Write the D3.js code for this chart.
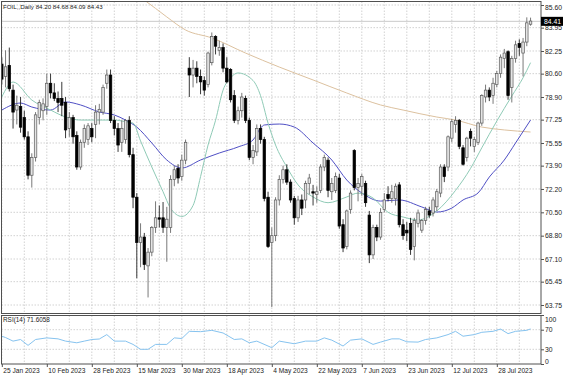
<!DOCTYPE html>
<html>
<head>
<meta charset="utf-8">
<script src="https://cdn.jsdelivr.net/npm/d3@7/dist/d3.min.js"></script>
<style>
  body { margin: 0; background: #fff; }
  svg { display: block; font-family: "Liberation Sans", Arial, sans-serif; }
</style>
</head>
<body>
<svg id="chart" width="564" height="376"></svg>
<script>
// daily OHLC, one entry per bar (bar 0 = 25 Jan 2023, last bar is the open one)
const open  = [81.3,80.4,81.2,79.4,77.95,78.2,77.4,76.0,73.2,74.5,77.4,77.9,78.2,79.9,79.2,78.8,78.8,78.5,76.6,77.4,
               76.1,73.8,75.6,75.8,76.6,76.9,77.8,77.8,79.9,80.5,77.2,76.6,75.6,75.8,77.2,74.7,71.6,68.3,68.7,66.6,
               67.6,69.4,70.1,70.1,69.4,69.4,72.9,73.7,73.1,74.3,81.0,80.5,81.0,80.4,80.1,79.8,81.4,83.3,82.3,82.5,
               81.0,80.9,79.0,77.2,77.9,78.8,77.2,74.5,74.9,76.6,75.8,71.6,68.3,68.8,71.4,72.9,73.6,72.7,71.5,70.1,
               71.4,71.4,72.6,72.0,71.8,72.1,73.8,74.3,72.0,72.1,73.0,69.6,68.0,70.7,75.0,72.3,72.4,72.6,70.3,67.4,
               69.4,68.7,70.7,71.8,71.5,71.5,72.5,69.6,69.2,69.7,68.0,69.7,69.2,69.9,70.6,70.45,70.9,71.9,73.8,73.8,
               75.9,76.9,77.2,75.2,74.5,76.4,75.3,75.6,77.0,78.9,79.4,79.0,79.8,80.6,81.7,82.2,79.6,81.7,82.8,82.1,
               82.9,84.20];
const high  = [81.8,82.3,82.5,79.8,79.0,78.9,77.9,76.4,74.8,77.8,78.7,78.8,80.6,80.6,79.9,79.3,80.0,78.9,77.8,77.6,
               76.4,75.8,76.9,77.0,77.0,78.3,78.4,79.8,80.9,80.9,77.5,77.0,77.2,77.3,77.5,75.2,71.9,69.7,69.0,67.9,
               69.5,71.3,71.0,71.25,70.9,73.2,73.9,74.0,74.7,75.8,81.8,81.6,81.5,80.9,80.4,82.2,83.6,83.4,83.0,82.8,
               81.8,81.0,79.4,78.2,79.2,79.0,77.4,75.4,76.9,76.9,76.0,72.0,69.4,71.6,73.2,73.9,74.0,72.9,71.7,71.7,
               71.8,72.8,73.3,72.5,72.4,74.0,74.7,74.5,73.0,73.4,73.3,70.0,70.7,72.1,75.1,73.0,73.3,72.8,70.6,69.6,
               69.6,70.8,71.9,72.4,72.5,72.6,72.7,70.0,69.8,70.1,70.1,70.7,70.0,70.9,70.9,71.6,72.2,74.0,74.0,76.1,
               77.3,77.5,77.3,75.4,76.0,76.6,76.0,77.1,79.1,79.8,79.6,80.3,80.8,82.0,82.4,82.3,81.9,83.0,83.1,83.2,
               84.7,84.68];
const low   = [79.8,79.6,79.3,76.6,76.9,76.3,75.8,72.9,72.3,74.2,76.9,77.2,77.6,78.8,78.6,77.8,77.5,75.9,76.0,75.5,
               73.6,73.6,75.2,75.4,75.6,75.9,76.9,77.6,79.5,77.0,76.1,74.9,74.9,75.5,74.5,70.8,65.7,66.5,66.3,64.3,
               67.3,69.0,69.4,69.0,66.9,69.0,72.4,72.6,72.8,74.0,78.9,79.6,79.9,79.1,79.0,79.6,81.2,82.0,81.9,80.7,
               79.9,78.5,77.0,76.9,77.4,77.0,74.3,74.0,74.6,75.5,71.3,67.9,63.6,68.4,71.0,72.6,72.5,71.2,69.6,69.8,
               70.3,70.8,71.8,71.0,71.2,71.9,73.5,71.6,71.4,71.9,69.3,67.6,67.8,70.4,72.1,71.3,71.7,70.9,66.8,67.1,
               68.4,68.5,70.5,71.3,71.2,71.0,69.4,68.5,68.4,67.4,67.0,69.4,69.0,69.6,70.1,70.2,70.6,71.6,72.7,73.5,
               75.6,76.3,75.1,73.9,74.2,75.3,74.9,75.4,76.8,78.5,78.6,78.4,79.6,80.3,81.0,78.7,78.5,81.4,81.9,80.4,
               82.6,84.09];
const close = [80.2,81.1,79.5,77.8,78.3,76.7,76.0,73.2,74.5,77.6,78.5,78.4,79.9,79.2,78.8,78.5,78.3,76.5,77.4,76.0,
               73.8,75.6,76.6,76.8,76.0,77.8,78.0,79.6,80.5,77.2,76.6,75.4,76.6,77.2,74.7,71.6,68.3,68.7,66.7,67.6,
               69.4,70.1,70.0,69.4,70.0,72.9,73.6,73.0,74.3,75.6,80.5,81.0,80.4,80.0,79.4,82.1,83.3,82.6,82.5,81.0,
               80.0,78.7,77.2,77.9,78.9,77.2,74.5,75.0,76.6,75.8,71.5,68.0,68.8,71.4,72.9,73.6,72.7,71.4,70.1,71.4,
               70.8,72.6,73.0,71.9,72.0,73.8,74.5,72.1,72.6,73.1,69.5,67.9,70.6,71.9,72.3,72.6,73.1,71.2,67.4,69.4,
               68.7,70.5,71.4,71.5,72.0,72.4,69.6,68.8,69.0,67.8,69.9,70.45,69.9,70.7,70.3,71.4,72.0,73.8,73.1,76.0,
               77.1,77.2,75.3,74.0,75.9,75.9,75.8,77.0,79.0,79.4,78.9,79.9,80.6,81.8,82.1,79.0,81.7,82.7,82.5,82.9,
               84.3,84.43];

// moving averages as [bar, price]
const maFast = [[0,78.90],[3,79.99],[8,78.68],[13,77.95],[17,77.44],[21,77.22],[26,77.22],[30,77.22],[33,77.10],
                [35,77.0],[37,75.7],[40,73.8],[43,72.0],[45,70.8],[48,70.2],[51,71.0],[53,73.1],[55,75.4],[57,77.2],
                [59,79.4],[61,80.3],[63,80.65],[67,80.1],[69,79.0],[71,77.0],[73,75.4],[76,73.8],[79,72.5],[83,71.62],
                [87,71.2],[92,71.62],[95,71.9],[99,71.54],[103,70.5],[107,70.16],[111,69.95],[116,70.6],[121,72.1],
                [125,73.7],[128,75.2],[132,77.15],[136,78.97],[139,80.3],[141,81.4]];
const maMid  = [[0,77.95],[5,78.46],[8,78.17],[13,77.95],[17,78.54],[21,78.32],[26,77.81],[30,77.59],[33,77.22],
                [36,76.71],[40,75.55],[44,74.31],[48,73.73],[53,74.31],[58,74.82],[63,75.26],[67,75.77],[69,76.64],
                [70,76.86],[74,76.93],[78,76.71],[83,75.55],[88,74.31],[92,72.85],[96,71.91],[101,71.32],[106,71.40],
                [112,70.89],[116,70.52],[120,70.81],[123,71.40],[127,71.91],[130,73.07],[134,74.31],[137,75.55],[141,77.22]];
const maSlow = [[35,86.5],[38,85.96],[44,84.73],[49,83.78],[56,83.20],[65,82.10],[74,81.08],[83,80.14],[92,79.19],
                [101,78.32],[107,77.95],[116,77.44],[121,77.22],[128,76.71],[134,76.50],[141,76.35]];

// RSI(14) as [bar, value]
const rsi = [[0,56.7],[1,54],[3,46.7],[5,50],[7,38],[9,50],[12,53.3],[15,51.3],[17,46.7],[20,43.3],[22,46.7],[24,50],
             [26,51],[28,60],[30,46.7],[33,46.7],[35,40],[37,30],[39,30],[41,40],[44,40],[46,53.3],[48,52],[50,66.7],
             [53,66],[56,68.7],[59,63.3],[62,50],[64,51.3],[66,43.3],[68,46.7],[72,33.3],[74,46.7],[78,41.3],[81,46.7],
             [84,46.7],[86,53.3],[88,48.7],[91,36.7],[93,48.7],[96,51.3],[99,40],[101,44.7],[104,51.3],[106,51.3],
             [108,45.3],[111,44.7],[113,50],[116,53.3],[119,60],[121,66.7],[123,56.7],[126,60],[128,64.7],[131,66.7],
             [133,71.3],[135,62],[137,66.7],[140,68.7],[141,71.6]];

const priceTicks = [85.60,83.95,82.25,80.60,78.90,77.25,75.55,73.90,72.20,70.50,68.80,67.10,65.45,63.75];
const rsiTicks = [100,70,30,0];
const dateTickBars = [0,12,24,36,48,60,72,84,96,108,120,132];
const dateTickLabels = ["25 Jan 2023","10 Feb 2023","28 Feb 2023","15 Mar 2023","30 Mar 2023","18 Apr 2023",
                        "4 May 2023","22 May 2023","7 Jun 2023","23 Jun 2023","12 Jul 2023","28 Jul 2023"];
const bidPrice = 84.41;

const plotL = 1.5, plotR = 541, mainT = 1.5, mainB = 313.5, rsiT = 315.5, rsiB = 364;

const svg = d3.select("#chart");
const x = d3.scaleLinear().domain([0, 141]).range([1.8, 1.8 + 141 * 3.75]);
const y = d3.scaleLinear().domain([63.75, 85.60]).range([305, 5]);
const yR = d3.scaleLinear().domain([0, 100]).range([364, 315]);

svg.append("defs").append("clipPath").attr("id", "mainClip")
  .append("rect").attr("x", plotL).attr("y", mainT).attr("width", plotR - plotL).attr("height", mainB - mainT);

// grid
const grid = svg.append("g").attr("stroke", "#c6c6c6").attr("stroke-dasharray", "1.5,1.5").attr("stroke-width", 0.8);
grid.selectAll("line.h").data(priceTicks).join("line")
  .attr("x1", plotL).attr("x2", plotR).attr("y1", d => y(d)).attr("y2", d => y(d));
const vBars = d3.range(0, 142, 6);
grid.selectAll("line.v").data(vBars).join("line")
  .attr("x1", d => x(d)).attr("x2", d => x(d)).attr("y1", mainT).attr("y2", mainB);
grid.selectAll("line.vr").data(vBars).join("line")
  .attr("x1", d => x(d)).attr("x2", d => x(d)).attr("y1", rsiT).attr("y2", rsiB);
grid.selectAll("line.hr").data([70, 30]).join("line")
  .attr("x1", plotL).attr("x2", plotR).attr("y1", d => yR(d)).attr("y2", d => yR(d));

const main = svg.append("g").attr("clip-path", "url(#mainClip)");

// bid line
main.append("line").attr("x1", plotL).attr("x2", plotR)
  .attr("y1", y(bidPrice)).attr("y2", y(bidPrice)).attr("stroke", "#bdbdbd").attr("stroke-width", 0.8);

// moving averages
const maLine = d3.line().x(d => x(d[0])).y(d => y(d[1])).curve(d3.curveMonotoneX);
main.append("path").attr("d", maLine(maSlow)).attr("fill", "none").attr("stroke", "#dcc19f").attr("stroke-width", 1);
main.append("path").attr("d", maLine(maMid)).attr("fill", "none").attr("stroke", "#4f4fc4").attr("stroke-width", 1);
main.append("path").attr("d", maLine(maFast)).attr("fill", "none").attr("stroke", "#8fcab6").attr("stroke-width", 1);

// candles
const bars = d3.range(open.length);
const candle = main.selectAll("g.candle").data(bars).join("g");
candle.append("line")
  .attr("x1", i => x(i)).attr("x2", i => x(i))
  .attr("y1", i => y(high[i])).attr("y2", i => y(low[i]))
  .attr("stroke", i => close[i] >= open[i] ? "#6a6a6a" : "#222").attr("stroke-width", 0.9);
candle.append("rect")
  .attr("x", i => x(i) - 1.25).attr("width", 2.5)
  .attr("y", i => y(Math.max(open[i], close[i])))
  .attr("height", i => Math.max(0.8, Math.abs(y(open[i]) - y(close[i]))))
  .attr("fill", i => close[i] >= open[i] ? "#e4e4e4" : "#000")
  .attr("stroke", i => close[i] >= open[i] ? "#5a5a5a" : "#000")
  .attr("stroke-width", 0.7);

// RSI
svg.append("path").attr("d", d3.line().x(d => x(d[0])).y(d => yR(d[1]))(rsi))
  .attr("fill", "none").attr("stroke", "#86c3ef").attr("stroke-width", 1);

// frames
svg.append("rect").attr("x", plotL).attr("y", mainT).attr("width", plotR - plotL).attr("height", mainB - mainT)
  .attr("fill", "none").attr("stroke", "#505050").attr("stroke-width", 1);
svg.append("rect").attr("x", plotL).attr("y", rsiT).attr("width", plotR - plotL).attr("height", rsiB - rsiT)
  .attr("fill", "none").attr("stroke", "#505050").attr("stroke-width", 1);

// price axis
const yAxis = svg.append("g").attr("transform", `translate(${plotR},0)`)
  .call(d3.axisRight(y).tickValues(priceTicks).tickSize(3).tickPadding(1).tickFormat(d3.format(".2f")));
yAxis.select(".domain").remove();
yAxis.selectAll("line").attr("stroke", "#505050");
yAxis.selectAll("text").attr("font-size", 6.8).attr("fill", "#222").attr("font-family", "Liberation Sans, Arial")
  .attr("dy", d => d === 85.60 ? "0.6em" : "0.32em");

// bid label
svg.append("rect").attr("x", plotR).attr("y", y(bidPrice) - 4.5).attr("width", 22).attr("height", 9).attr("fill", "#000");
svg.append("text").attr("x", plotR + 3).attr("y", y(bidPrice)).attr("dy", "0.35em")
  .attr("font-size", 6.8).attr("fill", "#fff").text(bidPrice.toFixed(2));

// rsi axis
const rAxis = svg.append("g").attr("transform", `translate(${plotR},0)`)
  .call(d3.axisRight(yR).tickValues(rsiTicks).tickSize(3).tickPadding(1));
rAxis.select(".domain").remove();
rAxis.selectAll("line").attr("stroke", "#505050");
rAxis.selectAll("text").attr("font-size", 6.8).attr("fill", "#222")
  .attr("dy", d => d === 100 ? "0.9em" : d === 0 ? "-0.1em" : "0.32em");

// date axis
const xAxis = svg.append("g").attr("transform", `translate(0,${rsiB})`)
  .call(d3.axisBottom(x).tickValues(dateTickBars).tickSize(3).tickPadding(1)
    .tickFormat((d, i) => dateTickLabels[i]));
xAxis.select(".domain").remove();
xAxis.selectAll("line").attr("stroke", "#505050");
xAxis.selectAll("text").attr("font-size", 6.6).attr("fill", "#222").attr("text-anchor", "start").attr("dx", 1);

// titles
svg.append("text").attr("x", 3).attr("y", 8.5).attr("font-size", 6.2).attr("fill", "#222")
  .text("FOIL,,Daily  84.20 84.68 84.09 84.43");
svg.append("text").attr("x", 3).attr("y", 322).attr("font-size", 6.4).attr("fill", "#222")
  .text("RSI(14) 71.6058");
</script>
</body>
</html>
